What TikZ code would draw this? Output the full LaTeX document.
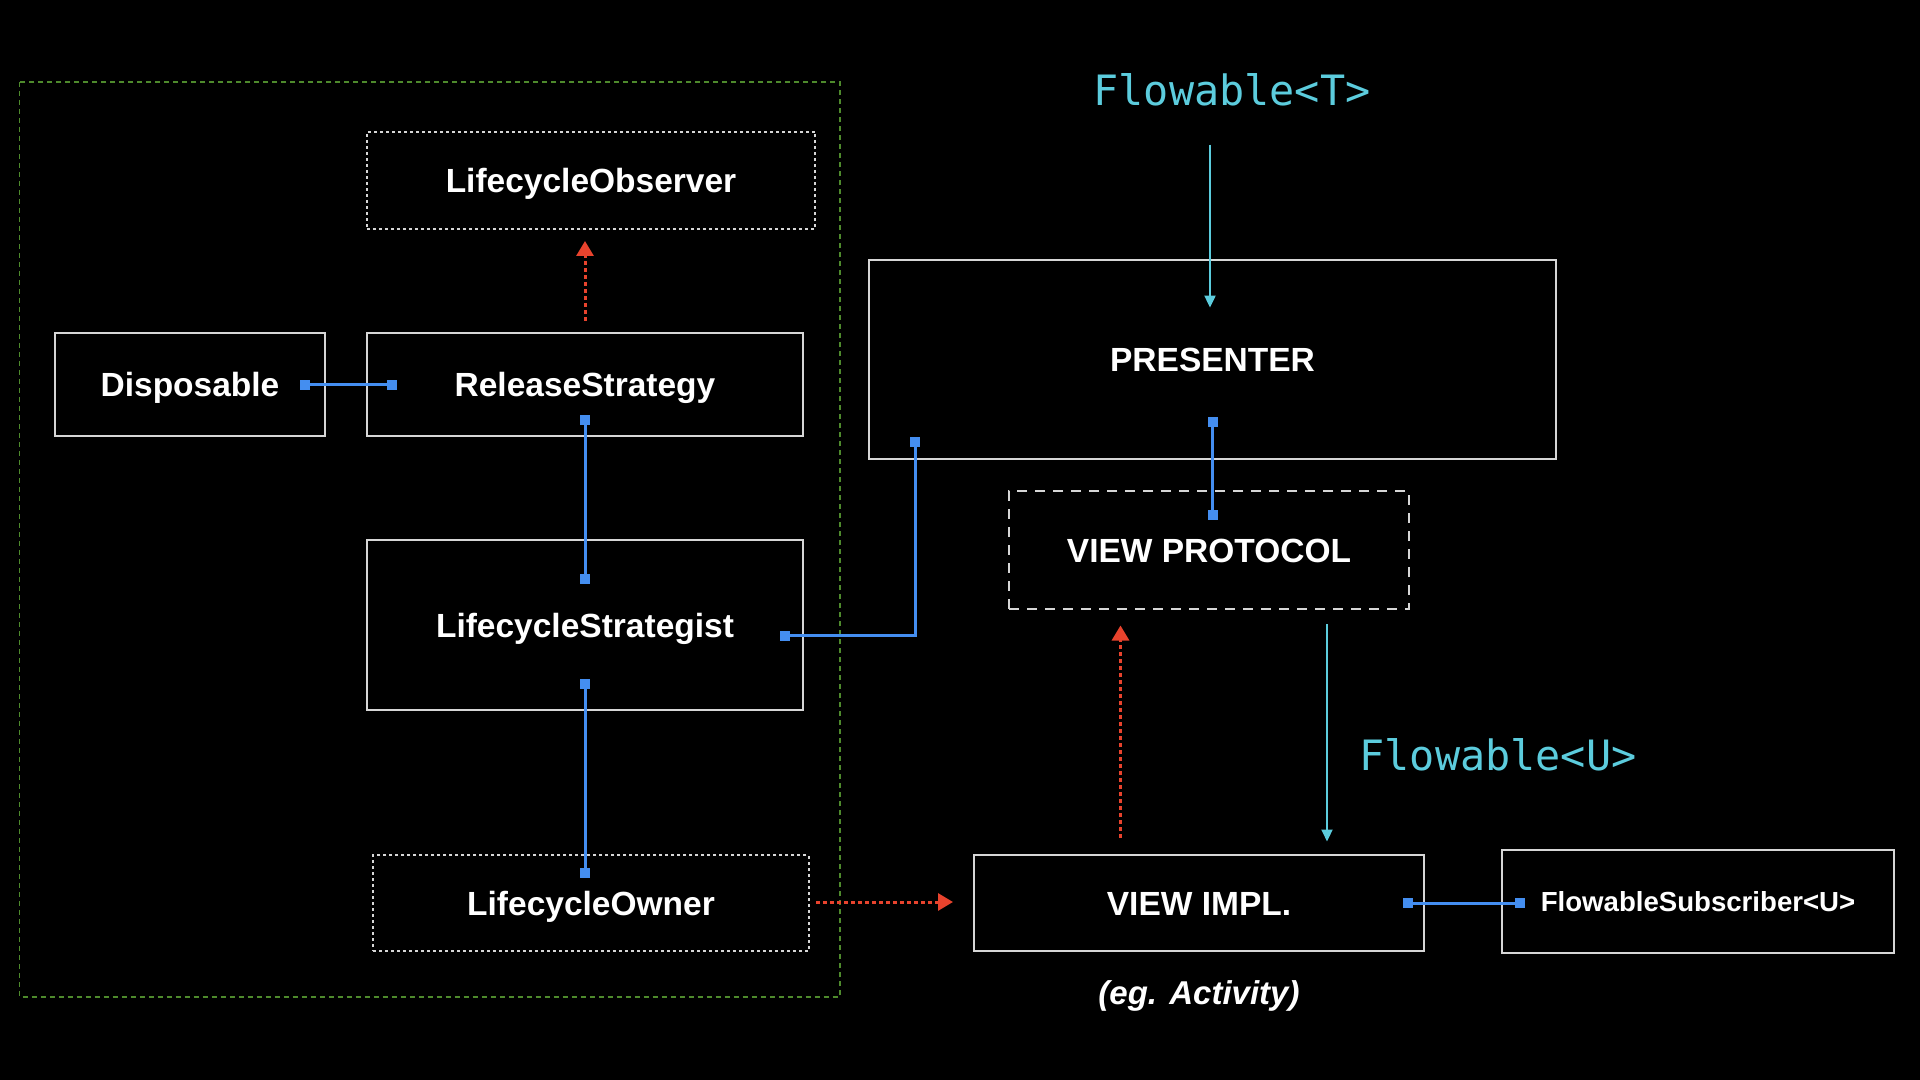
\documentclass[tikz,border=0pt]{standalone}
\usepackage{fontspec}
\setmainfont{Liberation Sans}
\newfontfamily\monofont{DejaVu Sans Mono}
\usetikzlibrary{arrows.meta,calc}
\definecolor{boxgray}{HTML}{D6D6D6}
\definecolor{linkblue}{HTML}{448EF0}
\definecolor{flowred}{HTML}{E8432D}
\definecolor{flowcyan}{HTML}{5CCCDD}
\definecolor{groupgreen}{HTML}{4E8A2C}
\tikzset{
  box/.style={draw=boxgray, line width=1pt, inner sep=0pt, text=white,
    text height=12pt, text depth=0pt,
    font=\bfseries\fontsize{16.75}{20}\selectfont},
  dotbox/.style={box, dash pattern=on 1.5pt off 1.5pt},
  dashbox/.style={box, dash pattern=on 5pt off 4pt},
  bl/.style={draw=linkblue, line width=1.5pt,
    {Square[length=5pt,width=5pt]}-{Square[length=5pt,width=5pt]}},
  redarrow/.style={draw=flowred, line width=1.5pt, dash pattern=on 2pt off 1.5pt,
    -{Triangle[length=7.5pt,width=8.5pt]}},
  cyanarrow/.style={draw=flowcyan, line width=1pt,
    -{Triangle[length=6pt,width=5.5pt]}},
  flowlabel/.style={text=flowcyan, inner sep=0pt,
    font=\monofont\fontsize{20.9}{25}\selectfont},
}
\begin{document}
\begin{tikzpicture}[x=0.5pt,y=-0.5pt]
\fill[black] (0,0) rectangle (1920,1080);
\useasboundingbox (0,0) rectangle (1920,1080);

% group frame
\draw[groupgreen, line width=0.6pt, dash pattern=on 2.5pt off 2pt] (19.6,82) rectangle (840,997);

% nodes
\node[dotbox, minimum width=224.25pt, minimum height=48.5pt] (obs) at (591,180.5) {LifecycleObserver};
\node[box, minimum width=134.75pt, minimum height=51.5pt] (disp) at (190,384.5) {Disposable};
\node[box, minimum width=218pt, minimum height=51.5pt] (rel) at (585,384.5) {ReleaseStrategy};
\node[box, minimum width=218pt, minimum height=85pt] (strat) at (585,625) {LifecycleStrategist};
\node[dotbox, minimum width=217.75pt, minimum height=48pt] (owner) at (591,903) {LifecycleOwner};
\node[box, minimum width=343.5pt, minimum height=99.5pt] (pres) at (1212.5,359.5) {PRESENTER};
\node[dashbox, minimum width=200pt, minimum height=59pt] (proto) at (1209,550) {VIEW PROTOCOL};
\node[box, minimum width=225.25pt, minimum height=48pt] (impl) at (1199,903) {VIEW IMPL.};
\node[box, minimum width=196pt, minimum height=51.5pt, text height=9.9pt,
  font=\bfseries\fontsize{13.8}{16}\selectfont] (sub) at (1698,901.5) {FlowableSubscriber<U>};
\node[text=white, inner sep=0pt, font=\bfseries\itshape\fontsize{16.5}{20}\selectfont] (eg) at (1199,996) {(eg. Activity)};

\node[flowlabel] (ft) at (1232,90) {Flowable<T>};
\node[flowlabel] (fu) at (1498,755) {Flowable<U>};

% blue links
\draw[bl] ($(disp.east)+(-26,0)$) -- ($(rel.west)+(31,0)$);
\draw[bl] ($(rel.south)+(0,-22)$) -- ($(strat.north)+(0,45)$);
\draw[bl] ($(strat.south)+(0,-32)$) -- ($(owner.north)+(-6,24)$);
\draw[bl] ($(strat.east)+(-24,10.5)$) -| ($(pres.south west)+(47,-23)$);
\draw[bl] ($(pres.south)+(0,-43)$) -- ($(proto.north)+(3.5,29.5)$);
\draw[bl] ($(impl.east)+(-22,0)$) -- ($(sub.west)+(24,1.5)$);

% red dotted arrows
\draw[redarrow] ($(rel.north)+(0,-11.3)$) -- ($(obs.south)+(-6,11)$);
\draw[redarrow] ($(owner.east)+(6.5,-1)$) -- ($(impl.west)+(-19.75,-1)$);
\draw[redarrow] ($(impl.north)+(-78.5,-16)$) -- ($(proto.south)+(-88.5,15.5)$);

% cyan flow arrows
\draw[cyanarrow] ($(ft.south)+(-22,38)$) -- ($(pres.north)+(-2.5,48.6)$);
\draw[cyanarrow] ($(proto.south)+(118,14)$) -- ($(impl.north)+(128,-12.5)$);
\end{tikzpicture}
\end{document}
